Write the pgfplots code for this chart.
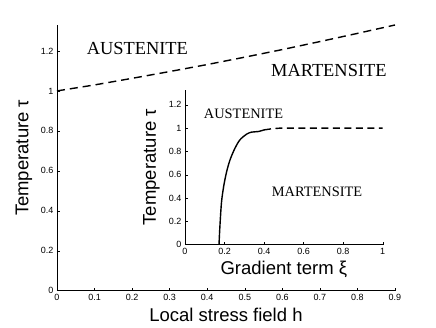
\documentclass[border=0pt]{standalone}
\usepackage{fontspec}
\setmainfont{Liberation Sans}
\newfontfamily\timesf{Liberation Serif}
\usepackage{pgfplots}
\pgfplotsset{compat=1.18}

\pgfplotsset{
  matlabstyle/.style={
    scale only axis,
    axis lines*=left,
    axis line style={-, line width=0.5pt},
    tick align=inside,
    major tick length=3pt,
    tick style={black, line width=0.4pt},
    /pgf/number format/assume math mode=true,
    /pgf/number format/fixed,
    tick label style={font=\fontsize{9}{10}\selectfont},
    label style={font=\fontsize{18.5}{20}\selectfont},
    clip=false,
  }
}

\begin{document}
\begin{tikzpicture}
\useasboundingbox (-57pt,-37.3pt) rectangle (379pt,290.7pt);

% main plot
\begin{axis}[
  matlabstyle,
  at={(0pt,0pt)}, anchor=south west,
  width=338pt, height=265.7pt,
  xmin=0, xmax=0.9, ymin=0, ymax=1.33,
  xtick={0,0.1,...,0.9},
  ytick={0,0.2,0.4,0.6,0.8,1,1.2},
  xlabel={Local stress field h},
  ylabel={Temperature τ},
  xlabel style={at={(axis description cs:0.5,-0.09)}, anchor=center},
  ylabel style={at={(axis description cs:-0.098,0.5)}, anchor=center},
  ]
  \addplot[black, line width=1.4pt, dash pattern=on 8pt off 5pt] coordinates {
    (0,1) (0.1,1.03) (0.2,1.063) (0.3,1.097) (0.4,1.132)
    (0.5,1.169) (0.6,1.207) (0.7,1.247) (0.8,1.288) (0.9,1.33)
  };
  \node[font=\timesf\fontsize{18.4}{20}\selectfont] at (axis cs:0.214,1.21) {AUSTENITE};
  \node[font=\timesf\fontsize{18.4}{20}\selectfont] at (axis cs:0.724,1.10) {MARTENSITE};
\end{axis}

% inset
\begin{axis}[
  matlabstyle,
  at={(128pt,46pt)}, anchor=south west,
  width=197.7pt, height=155pt,
  xmin=0, xmax=1, ymin=0, ymax=1.33,
  xtick={0,0.2,...,1},
  ytick={0,0.2,0.4,0.6,0.8,1,1.2},
  xlabel={Gradient term ξ},
  ylabel={Temperature τ},
  xlabel style={at={(axis description cs:0.5,-0.16)}, anchor=center},
  ylabel style={at={(axis description cs:-0.17,0.5)}, anchor=center},
  ]
  \addplot[black, line width=1.4pt, smooth] coordinates {
    (0.172,0) (0.177,0.171) (0.185,0.371) (0.197,0.514) (0.211,0.629)
    (0.228,0.729) (0.253,0.829) (0.278,0.9) (0.312,0.949) (0.337,0.966)
    (0.371,0.971) (0.40,0.985)
  };
  \addplot[black, line width=1.4pt, dash pattern=on 7pt off 4.5pt] coordinates {
    (0.40,0.985) (0.44,0.995) (0.48,1.0) (0.6,1.0) (0.8,1.0) (1.0,1.0)
  };
  \node[font=\timesf\fontsize{14.4}{16}\selectfont] at (axis cs:0.296,1.12) {AUSTENITE};
  \node[font=\timesf\fontsize{14.4}{16}\selectfont] at (axis cs:0.668,0.45) {MARTENSITE};
\end{axis}
\end{tikzpicture}
\end{document}
